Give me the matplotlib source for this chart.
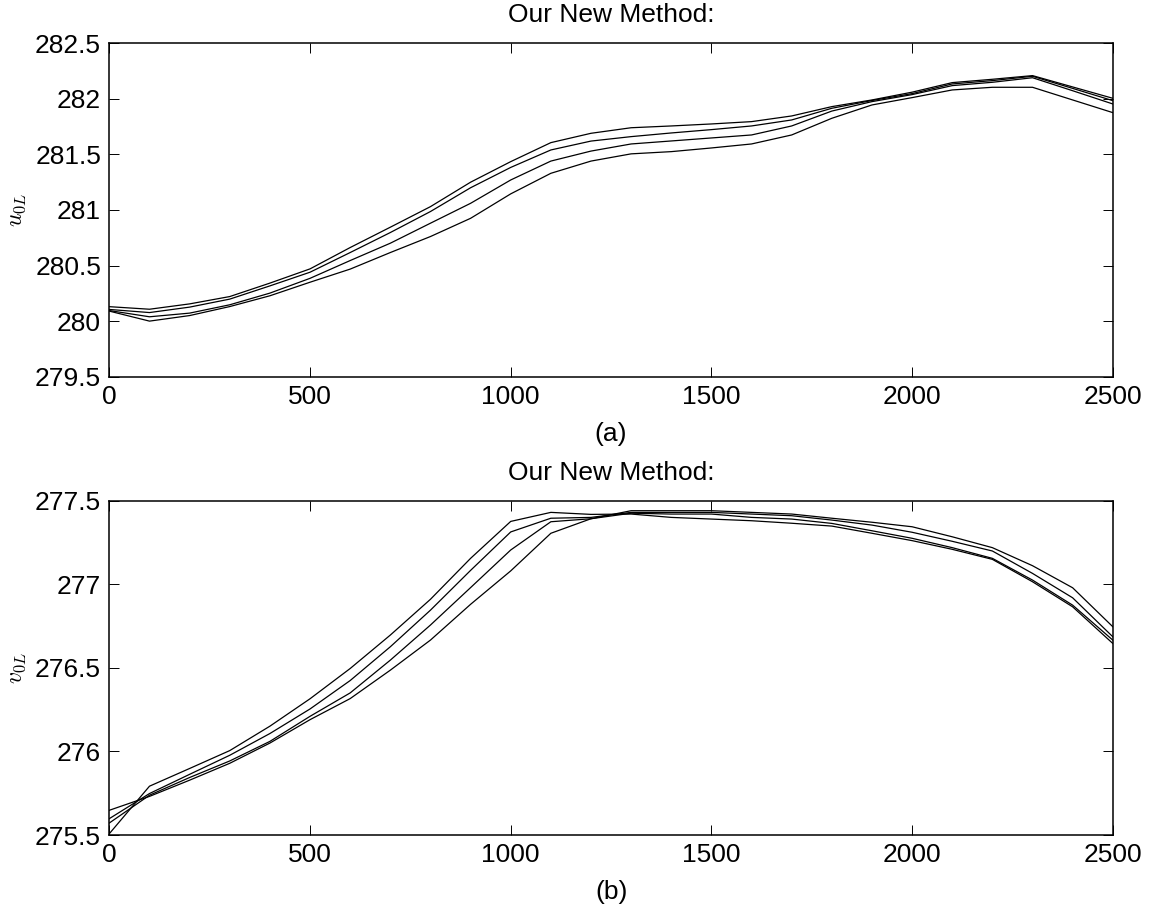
import matplotlib
matplotlib.use("Agg")
import matplotlib.pyplot as plt
from matplotlib.ticker import FuncFormatter

plt.rcParams['font.family'] = ['Liberation Sans', 'DejaVu Sans']
plt.rcParams['mathtext.fontset'] = 'cm'

x = list(range(0, 2600, 100))

# top panel, u_0L (four runs)
u1 = [280.13, 280.107, 280.155, 280.221, 280.342, 280.47, 280.662, 280.845, 281.03, 281.25,
      281.435, 281.606, 281.69, 281.74, 281.756, 281.774, 281.795, 281.846, 281.93, 281.99,
      282.06, 282.146, 282.176, 282.209, 282.107, 282.005]
u2 = [280.105, 280.077, 280.126, 280.198, 280.317, 280.44, 280.617, 280.797, 280.986, 281.20,
      281.383, 281.54, 281.62, 281.66, 281.693, 281.723, 281.756, 281.81, 281.915, 281.985,
      282.047, 282.134, 282.164, 282.203, 282.094, 281.984]
u3 = [280.095, 280.039, 280.072, 280.147, 280.252, 280.385, 280.545, 280.701, 280.881, 281.06,
      281.27, 281.44, 281.53, 281.594, 281.621, 281.648, 281.675, 281.756, 281.89, 281.975,
      282.038, 282.119, 282.149, 282.19, 282.073, 281.954]
u4 = [280.09, 280.0, 280.05, 280.131, 280.228, 280.35, 280.468, 280.617, 280.761, 280.925,
      281.145, 281.33, 281.44, 281.505, 281.525, 281.558, 281.594, 281.675, 281.825, 281.945,
      282.011, 282.08, 282.104, 282.104, 281.99, 281.876]

# bottom panel, v_0L (four runs)
v1 = [275.508, 275.792, 275.898, 276.005, 276.151, 276.315, 276.496, 276.696, 276.91, 277.155,
      277.376, 277.43, 277.418, 277.42, 277.40, 277.39, 277.38, 277.365, 277.348, 277.305,
      277.261, 277.209, 277.149, 277.015, 276.865, 276.646]
v2 = [275.598, 275.748, 275.863, 275.977, 276.107, 276.254, 276.424, 276.626, 276.845, 277.083,
      277.313, 277.395, 277.40, 277.43, 277.43, 277.43, 277.42, 277.41, 277.384, 277.354,
      277.311, 277.257, 277.199, 277.065, 276.919, 276.686]
v3 = [275.572, 275.738, 275.844, 275.943, 276.06, 276.21, 276.35, 276.546, 276.756, 276.98,
      277.205, 277.374, 277.392, 277.425, 277.42, 277.42, 277.40, 277.39, 277.364, 277.32,
      277.275, 277.219, 277.155, 277.025, 276.875, 276.666]
v4 = [275.648, 275.731, 275.828, 275.929, 276.05, 276.19, 276.316, 276.486, 276.666, 276.88,
      277.08, 277.305, 277.392, 277.44, 277.44, 277.44, 277.43, 277.42, 277.395, 277.371,
      277.344, 277.284, 277.219, 277.111, 276.979, 276.746]

xticks = [0, 500, 1000, 1500, 2000, 2500]
uticks = [279.5, 280, 280.5, 281, 281.5, 282, 282.5]
vticks = [275.5, 276, 276.5, 277, 277.5]

fs = 19
fig = plt.figure(figsize=(11.51, 9.09), dpi=100)
ax1 = fig.add_axes([0.095, 0.5856, 0.8718, 0.3668])
ax2 = fig.add_axes([0.095, 0.0814, 0.8718, 0.3678])

panels = [(ax1, [u1, u2, u3, u4], uticks, r'$u_{0L}$', '(a)'),
          (ax2, [v1, v2, v3, v4], vticks, r'$v_{0L}$', '(b)')]

for ax, series, yt, ylab, xlab in panels:
    for s in series:
        ax.plot(x, s, color='black', lw=0.9)
    ax.set_xlim(0, 2500)
    ax.set_ylim(yt[0], yt[-1])
    ax.set_xticks(xticks)
    ax.set_yticks(yt)
    ax.yaxis.set_major_formatter(FuncFormatter(lambda v, p: '%g' % v))
    ax.tick_params(direction='in', length=7, width=0.7, top=True, right=True,
                   labelsize=fs, pad=6)
    for sp in ax.spines.values():
        sp.set_linewidth(1.1)
    ax.set_title('Our New Method:', fontsize=fs, pad=15)
    ax.set_xlabel(xlab, fontsize=fs, labelpad=9)
    ax.set_ylabel(ylab, fontsize=17, labelpad=5)

fig.savefig('out.png', dpi=100)
